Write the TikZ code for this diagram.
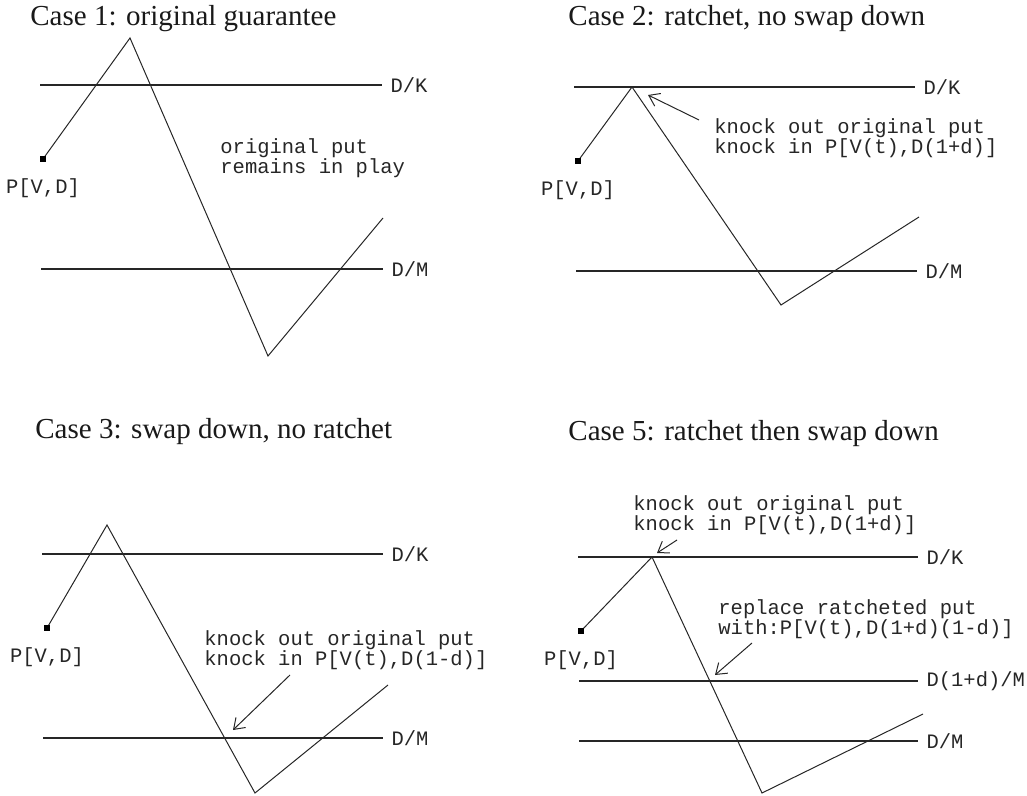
\documentclass[tikz,border=0pt]{standalone}
\usepackage{fontspec}
\setmainfont{Liberation Serif}
\setmonofont{Liberation Mono}
\usepackage{tikz}
\usetikzlibrary{positioning, arrows.meta}

\begin{document}
\begin{tikzpicture}[
            % one unit = one pixel of the original figure
            x=0.5pt, y=-0.5pt,
            title/.style={font=\fontsize{14.5}{16}\selectfont, anchor=base west, inner sep=0pt, text=black!90},
            lbl/.style={font=\ttfamily\fontsize{10.25}{10}\selectfont, inner sep=0pt, align=left, text=black!85},
            level/.style={line width=0.55pt, draw=black!85},
            price/.style={line width=0.5pt, draw=black!85},
            spot/.style={rectangle, fill=black, minimum size=3pt, inner sep=0pt},
            arrow/.style={line width=0.5pt, draw=black!85, -{Straight Barb[length=5pt, width=7pt]}}
        ]
            \useasboundingbox (0,0) rectangle (1027,796);

            % Case 1
            \node[title] (tone) at (30,26) {Case 1: original guarantee};
            \draw[level] (40,85) -- (382,85) node[lbl, right=4pt] (dkone) {D/K};
            \draw[level] (41,269) -- (383,269) node[lbl, right=4pt] (dmone) {D/M};
            \coordinate (sone) at (43,159);
            \coordinate (pone) at (130,38);
            \coordinate (bone) at (268,356);
            \coordinate (eone) at (383,218);
            \draw[price] (sone) -- (pone) -- (bone) -- (eone);
            \node[spot] (qone) at (sone) {};
            \node[lbl, below=8pt of qone] (vone) {P[V,D]};
            \node[lbl, anchor=west] (none) at (220,158) {original put\\remains in play};

            % Case 2
            \node[title] (ttwo) at (568,26) {Case 2: ratchet, no swap down};
            \draw[level] (574,87) -- (915,87) node[lbl, right=4pt] (dktwo) {D/K};
            \draw[level] (576,271) -- (917,271) node[lbl, right=4pt] (dmtwo) {D/M};
            \coordinate (stwo) at (578,161);
            \coordinate (ptwo) at (632,87);
            \coordinate (btwo) at (781,305);
            \coordinate (etwo) at (919,217);
            \draw[price] (stwo) -- (ptwo) -- (btwo) -- (etwo);
            \node[spot] (qtwo) at (stwo) {};
            \node[lbl, below=8pt of qtwo] (vtwo) {P[V,D]};
            \node[lbl, anchor=west] (ntwo) at (714,138) {knock out original put\\knock in P[V(t),D(1+d)]};
            \coordinate (atwo) at (699,120);
            \coordinate (ztwo) at (648,95);
            \draw[arrow] (atwo) -- (ztwo);

            % Case 3
            \node[title] (tthree) at (35,438) {Case 3: swap down, no ratchet};
            \draw[level] (42,554) -- (383,554) node[lbl, right=4pt] (dkthree) {D/K};
            \draw[level] (43,738) -- (383,738) node[lbl, right=4pt] (dmthree) {D/M};
            \coordinate (sthree) at (47,628);
            \coordinate (pthree) at (107,525);
            \coordinate (bthree) at (255,793);
            \coordinate (ethree) at (388,685);
            \draw[price] (sthree) -- (pthree) -- (bthree) -- (ethree);
            \node[spot] (qthree) at (sthree) {};
            \node[lbl, below=8pt of qthree] (vthree) {P[V,D]};
            \node[lbl, anchor=west] (nthree) at (204,650) {knock out original put\\knock in P[V(t),D(1-d)]};
            \coordinate (athree) at (290,675);
            \coordinate (zthree) at (233,730);
            \draw[arrow] (athree) -- (zthree);

            % Case 5
            \node[title] (tfive) at (568,440) {Case 5: ratchet then swap down};
            \draw[level] (578,557) -- (918,557) node[lbl, right=4pt] (dkfive) {D/K};
            \draw[level] (579,681) -- (918,681) node[lbl, right=4pt] (dsfive) {D(1+d)/M};
            \draw[level] (579,741) -- (918,741) node[lbl, right=4pt] (dmfive) {D/M};
            \coordinate (sfive) at (581,631);
            \coordinate (pfive) at (652,557);
            \coordinate (bfive) at (762,793);
            \coordinate (efive) at (923,714);
            \draw[price] (sfive) -- (pfive) -- (bfive) -- (efive);
            \node[spot] (qfive) at (sfive) {};
            \node[lbl, below=8pt of qfive] (vfive) {P[V,D]};
            \node[lbl, anchor=west] (kfive) at (633,515) {knock out original put\\knock in P[V(t),D(1+d)]};
            \coordinate (afive) at (677,540);
            \coordinate (zfive) at (657,553);
            \draw[arrow] (afive) -- (zfive);
            \node[lbl, anchor=west] (rfive) at (718,619) {replace ratcheted put\\with:P[V(t),D(1+d)(1-d)]};
            \coordinate (cfive) at (752,643);
            \coordinate (yfive) at (715,675);
            \draw[arrow] (cfive) -- (yfive);

        \end{tikzpicture}
\end{document}
